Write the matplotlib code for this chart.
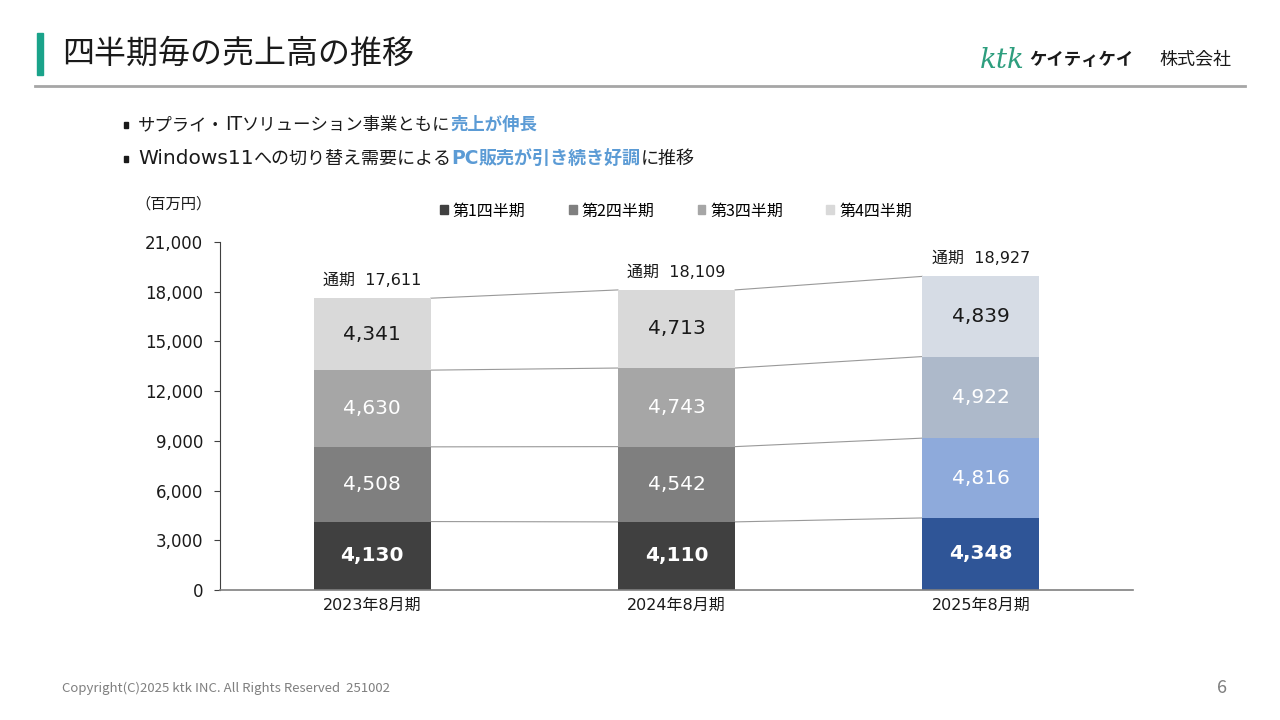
import matplotlib
matplotlib.use("Agg")
import matplotlib.pyplot as plt
from matplotlib.patches import Patch, Rectangle
from matplotlib.lines import Line2D
import numpy as np

plt.rcParams['font.family'] = ['Noto Sans CJK JP', 'DejaVu Sans']
WIDE = ['DejaVu Sans', 'Noto Sans CJK JP']

categories = ["2023年8月期", "2024年8月期", "2025年8月期"]
series_names = ["第1四半期", "第2四半期", "第3四半期", "第4四半期"]
q1 = [4130, 4110, 4348]
q2 = [4508, 4542, 4816]
q3 = [4630, 4743, 4922]
q4 = [4341, 4713, 4839]
totals = [17611, 18109, 18927]
yticks = [0, 3000, 6000, 9000, 12000, 15000, 18000, 21000]

gray_colors = ["#404040", "#7f7f7f", "#a6a6a6", "#d9d9d9"]
blue_colors = ["#2f5597", "#8eaadb", "#adb9ca", "#d6dce5"]
label_colors = ["white", "white", "white", "#1a1a1a"]
label_weights = ["bold", "normal", "normal", "normal"]

fig = plt.figure(figsize=(12.8, 7.2), dpi=100)
fig.patch.set_facecolor("white")

# header
fig.patches.append(Rectangle((37/1280, 1-75/720), 6/1280, 42/720, transform=fig.transFigure,
                             color="#1aa38a", zorder=5))
fig.text(62/1280, 1-54/720, "四半期毎の売上高の推移", fontsize=23, va="center", ha="left", color="#1a1a1a")
fig.add_artist(Line2D([35/1280, 1245/1280], [1-86/720, 1-86/720], color="#a6a6a6", lw=2,
                      transform=fig.transFigure))
fig.text(980/1280, 1-60/720, "ktk", fontsize=20, family=["DejaVu Serif"], style="italic",
         color="#2e9e7e", va="center", ha="left")
fig.text(1029/1280, 1-60/720, "ケイティケイ", fontsize=12.5, weight="bold", color="#1a1a1a",
         va="center", ha="left")
fig.text(1159/1280, 1-60/720, "株式会社", fontsize=13, color="#1a1a1a", va="center", ha="left")

# bullets
def multi_text(x, y, parts):
    fig.canvas.draw()
    r = fig.canvas.get_renderer()
    cx = x
    for s, color, weight, size, fam in parts:
        t = fig.text(cx, y, s, fontsize=size, color=color, weight=weight, va="baseline",
                     ha="left", family=fam)
        bb = t.get_window_extent(renderer=r)
        cx += bb.width / fig.bbox.width

CJK = ['Noto Sans CJK JP', 'DejaVu Sans']
for yy in [125, 159]:
    fig.patches.append(Rectangle((124/1280, 1-(yy+3)/720), 4/1280, 6/720, transform=fig.transFigure,
                                 color="#1a1a1a"))
blue = "#5b9bd5"
k = "#1a1a1a"
multi_text(138/1280, 1-130/720, [("サプライ・", k, "normal", 12.5, CJK),
                                 ("IT", k, "normal", 13.5, WIDE),
                                 ("ソリューション事業ともに", k, "normal", 12.5, CJK),
                                 ("売上が伸長", blue, "bold", 12.5, CJK)])
multi_text(138/1280, 1-164/720, [("Windows11", k, "normal", 14.5, WIDE),
                                 ("への切り替え需要による", k, "normal", 13, CJK),
                                 ("PC", blue, "bold", 13.5, WIDE),
                                 ("販売が引き続き好調", blue, "bold", 13, CJK),
                                 ("に推移", k, "normal", 13, CJK)])

# chart
ax = fig.add_axes([220/1280, 1-590/720, 913/1280, 348/720])
x = np.arange(len(categories))
w = 0.385
data = [q1, q2, q3, q4]
bottoms = np.zeros(len(categories))
cum = []
for si, vals in enumerate(data):
    vals = np.array(vals, dtype=float)
    cols = [gray_colors[si], gray_colors[si], blue_colors[si]]
    ax.bar(x, vals, w, bottom=bottoms, color=cols, zorder=2)
    for i in range(len(categories)):
        ax.text(x[i], bottoms[i] + vals[i] / 2, f"{int(vals[i]):,}", ha="center", va="center",
                fontsize=14.5, color=label_colors[si], weight=label_weights[si],
                family=WIDE, zorder=4)
    bottoms = bottoms + vals
    cum.append(bottoms.copy())

for c in cum:
    for i in range(len(categories) - 1):
        ax.plot([x[i] + w / 2, x[i + 1] - w / 2], [c[i], c[i + 1]], color="#999999", lw=0.8, zorder=1)

for i, t in enumerate(totals):
    ax.text(x[i], t + 600, f"通期  {t:,}", ha="center", va="bottom", fontsize=11.5, color="#1a1a1a",
            family=WIDE)

ax.set_xlim(-0.5, 2.5)
ax.set_ylim(0, 21000)
ax.set_yticks(yticks)
ax.set_yticklabels([f"{v:,}" for v in yticks], fontsize=12, family=WIDE, color="#1a1a1a")
ax.set_xticks(x)
ax.set_xticklabels(categories, fontsize=11.5, family=WIDE, color="#1a1a1a")
ax.tick_params(axis="x", length=0, pad=6)
ax.tick_params(axis="y", length=4, width=0.8, color="#404040", pad=8)
for s in ["top", "right"]:
    ax.spines[s].set_visible(False)
ax.spines["left"].set_color("#404040")
ax.spines["left"].set_linewidth(0.8)
ax.spines["bottom"].set_color("#808080")
ax.spines["bottom"].set_linewidth(1.2)

fig.text(174/1280, 1-204/720, "（百万円）", fontsize=11, ha="center", va="center", color="#1a1a1a")

handles = [Patch(color=gray_colors[i], label=series_names[i]) for i in range(4)]
fig.legend(handles=handles, loc="center", bbox_to_anchor=(676/1280, 1-211/720), ncol=4,
           frameon=False, fontsize=11.5, handlelength=0.5, handleheight=0.5, handletextpad=0.3,
           columnspacing=2.7)

# footer
fig.text(62/1280, 1-688/720, "Copyright(C)2025 ktk INC. All Rights Reserved  251002", fontsize=9.5,
         color="#7f7f7f", va="center", ha="left")
fig.text(1222/1280, 1-688/720, "6", fontsize=13, color="#7f7f7f", va="center", ha="center")

fig.savefig("out.png", dpi=100)
